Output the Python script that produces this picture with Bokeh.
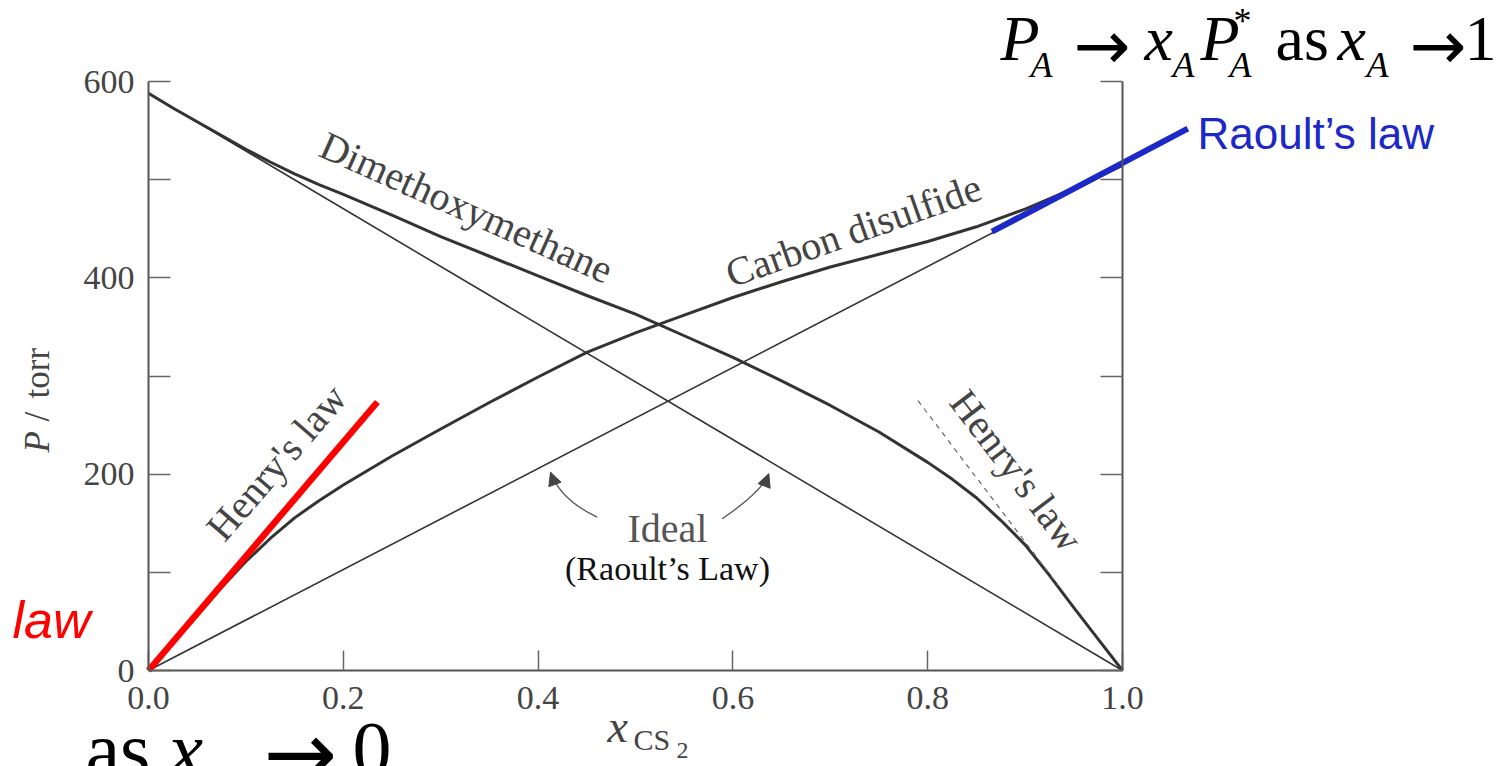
import math

from bokeh.plotting import figure
from bokeh.models import (Range1d, LinearAxis, FixedTicker, Label, Arrow,
                          NormalHead, PrintfTickFormatter, CustomJSTickFormatter)
from bokeh.embed import file_html
from bokeh.resources import INLINE

# Vapour pressures over CS2 / dimethoxymethane mixtures at 35 degC
x_cs2 = [0.0, 0.025, 0.05, 0.075, 0.10, 0.125, 0.15, 0.175, 0.20, 0.25, 0.30,
         0.35, 0.40, 0.45, 0.50, 0.55, 0.60, 0.65, 0.70, 0.75, 0.80, 0.85,
         0.90, 0.95, 1.0]
p_cs2 = [0.0, 29.0, 56.0, 84.5, 111.0, 134.5, 155.5, 173.0, 189.0, 218.5, 246.0,
         273.0, 299.0, 324.0, 344.0, 362.0, 380.0, 396.0, 411.0, 424.0, 437.0, 452.0,
         470.0, 491.0, 514.5]

x_dmm = [0.0, 0.025, 0.05, 0.075, 0.10, 0.125, 0.15, 0.175, 0.20, 0.25, 0.30,
         0.35, 0.40, 0.45, 0.50, 0.55, 0.60, 0.65, 0.70, 0.75, 0.80, 0.825,
         0.85, 0.875, 0.90, 0.925, 0.95, 0.975, 1.0]
p_dmm = [588.0, 573.0, 559.0, 545.0, 531.0, 518.0, 506.0, 495.0, 485.0, 464.0, 442.0,
         422.0, 402.0, 382.0, 363.0, 341.0, 319.0, 295.0, 270.0, 243.0, 212.0, 195.0,
         176.0, 153.0, 128.0, 97.0, 64.0, 32.0, 0.0]

# Ideal (Raoult's law) lines
ideal_x = [0.0, 1.0]
ideal_cs2 = [0.0, 514.5]
ideal_dmm = [588.0, 0.0]

# Limiting laws
henry_cs2_x = [0.0, 0.235]
henry_cs2_p = [0.0, 273.5]
henry_dmm_x = [0.79, 0.934]
henry_dmm_p = [275.0, 86.5]
raoult_cs2_x = [0.866, 1.067]
raoult_cs2_p = [447.0, 552.0]

x_ticks = [0.0, 0.2, 0.4, 0.6, 0.8, 1.0]
y_ticks = [0, 200, 400, 600]
y_minor_ticks = [100, 300, 500]
y_right_ticks = [0, 100, 200, 300, 400, 500, 600]

SERIF = "Liberation Serif"
SANS = "Liberation Sans"
ARROW_FONT = "DejaVu Sans"
INK = "#333333"
AXIS = "#555555"
BLACK = "#000000"

W, H = 1510, 766
# screen placement of the data box (x 0..1, P 0..600)
X0, X1, Y0, Y600 = 148, 1122, 670, 81


def dx(px):
    return (px - X0) / (X1 - X0)


def dy(py):
    return (Y0 - py) * 600 / (Y0 - Y600)


p = figure(frame_width=W, frame_height=H,
           x_range=Range1d(dx(0), dx(W)), y_range=Range1d(dy(H), dy(0)),
           min_border=0, output_backend="svg", toolbar_location=None, title=None)
p.outline_line_color = None
p.grid.visible = False
p.background_fill_color = "white"
p.border_fill_color = "white"


def style_axis(ax, tick_len):
    ax.axis_line_color = AXIS
    ax.axis_line_width = 2
    ax.major_tick_in = tick_len
    ax.major_tick_out = 0
    ax.minor_tick_in = tick_len
    ax.minor_tick_out = 0
    ax.major_tick_line_color = "#666666"
    ax.minor_tick_line_color = "#666666"
    ax.major_tick_line_width = 1.5
    ax.minor_tick_line_width = 1.5
    ax.major_label_text_font = SERIF
    ax.major_label_text_font_size = "34px"
    ax.major_label_text_color = "#444444"


xa = p.xaxis[0]
xa.fixed_location = 0
xa.bounds = (0, 1)
xa.ticker = FixedTicker(ticks=x_ticks)
xa.formatter = PrintfTickFormatter(format="%.1f")
style_axis(xa, 20)
xa.major_label_standoff = 16

ya = p.yaxis[0]
ya.fixed_location = 0
ya.bounds = (0, 600)
ya.ticker = FixedTicker(ticks=y_ticks, minor_ticks=y_minor_ticks)
style_axis(ya, 22)
ya.major_label_standoff = 14

ra = LinearAxis(ticker=FixedTicker(ticks=y_right_ticks), fixed_location=1.0,
                bounds=(0, 600), formatter=CustomJSTickFormatter(code="return ''"))
style_axis(ra, 22)
p.add_layout(ra, "right")

# ideal lines
p.line(ideal_x, ideal_cs2, line_width=1.6, line_color=INK)
p.line(ideal_x, ideal_dmm, line_width=1.6, line_color=INK)
# measured partial pressures
p.line(x_cs2, p_cs2, line_width=3, line_color=INK, line_join="round")
p.line(x_dmm, p_dmm, line_width=3, line_color=INK, line_join="round")
# Henry's law tangents
p.line(henry_dmm_x, henry_dmm_p, line_width=1.2, line_color="#666666", line_dash="5 5")
p.line(henry_cs2_x, henry_cs2_p, line_width=6.5, line_color="#ff0000")
# Raoult's law tangent for CS2
p.line(raoult_cs2_x, raoult_cs2_p, line_width=6, line_color="#1c28c8")


def put(text, px, py, size, font=SERIF, style="normal", color="#444444",
        align="left", angle=0.0):
    """Place a text whose line box is vertically centred on screen row py."""
    p.add_layout(Label(x=dx(px), y=dy(py), text=text, text_font=font,
                       text_font_size=f"{size}px", text_font_style=style,
                       text_color=color, text_align=align,
                       text_baseline="middle", angle=angle))


# curved pointers from the "Ideal" caption
for (sx, sy), (cx, cy), (ex, ey), (bx, by) in [
        ((596.7, 516.7), (560.0, 499.2), (550.0, 471.7), (553.5, 481.3)),
        ((721.7, 518.3), (761.6, 490.8), (768.3, 473.3), (765.6, 480.3))]:
    p.quadratic(x0=dx(sx), y0=dy(sy), x1=dx(ex), y1=dy(ey), cx=dx(cx), cy=dy(cy),
                line_color="#555555", line_width=1.3)
    p.add_layout(Arrow(end=NormalHead(size=13, fill_color="#444444", line_color="#444444"),
                       x_start=dx(bx), y_start=dy(by), x_end=dx(ex), y_end=dy(ey),
                       line_alpha=0))

# curve captions
put("Dimethoxymethane", 466, 207, 40, align="center", angle=-0.42)
put("Carbon disulfide", 853, 230, 40, align="center", angle=0.34)
put("Henry's law", 276, 462, 40, align="center", angle=0.86)
put("Henry's law", 1016, 470, 40, align="center", angle=-0.92)
put("Ideal", 667, 528, 40, color="#555555", align="center")
put("(Raoult\u2019s Law)", 667, 568, 34, color="#111111", align="center")

# axis titles
put("P", 37, 452, 35, style="italic", angle=math.pi / 2)
put("/", 37, 421, 35, angle=math.pi / 2)
put("torr", 37, 398, 35, angle=math.pi / 2)
put("x", 607, 726, 46, style="italic")
put("CS", 633, 739, 30)
put("2", 676, 750, 24)

# slide annotations
put("Raoult\u2019s law", 1197, 133, 44, font=SANS, color="#1c28c8")
put("law", 12, 619, 52, font=SANS, style="italic", color="#ff0000")

# P_A -> x_A P*_A as x_A -> 1
put("P", 1000, 38, 64, style="italic", color=BLACK)
put("A", 1030, 64, 36, style="italic", color=BLACK)
put("\u2192", 1073, 45, 68, font=ARROW_FONT, color=BLACK)
put("x", 1144, 38, 64, style="italic", color=BLACK)
put("A", 1172, 64, 36, style="italic", color=BLACK)
put("P", 1200, 38, 64, style="italic", color=BLACK)
put("*", 1233, 20, 36, color=BLACK)
put("A", 1229, 64, 36, style="italic", color=BLACK)
put("as", 1275, 38, 64, color=BLACK)
put("x", 1337, 38, 64, style="italic", color=BLACK)
put("A", 1366, 64, 36, style="italic", color=BLACK)
put("\u2192", 1409, 45, 68, font=ARROW_FONT, color=BLACK)
put("1", 1464, 38, 64, color=BLACK)

# ... as x_A -> 0
put("as", 85, 749, 78, color=BLACK)
put("x", 168, 749, 78, style="italic", color=BLACK)
put("\u2192", 263, 753, 88, font=ARROW_FONT, color=BLACK)
put("0", 352, 749, 78, color=BLACK)

open("out.html", "w").write(file_html(p, INLINE))
